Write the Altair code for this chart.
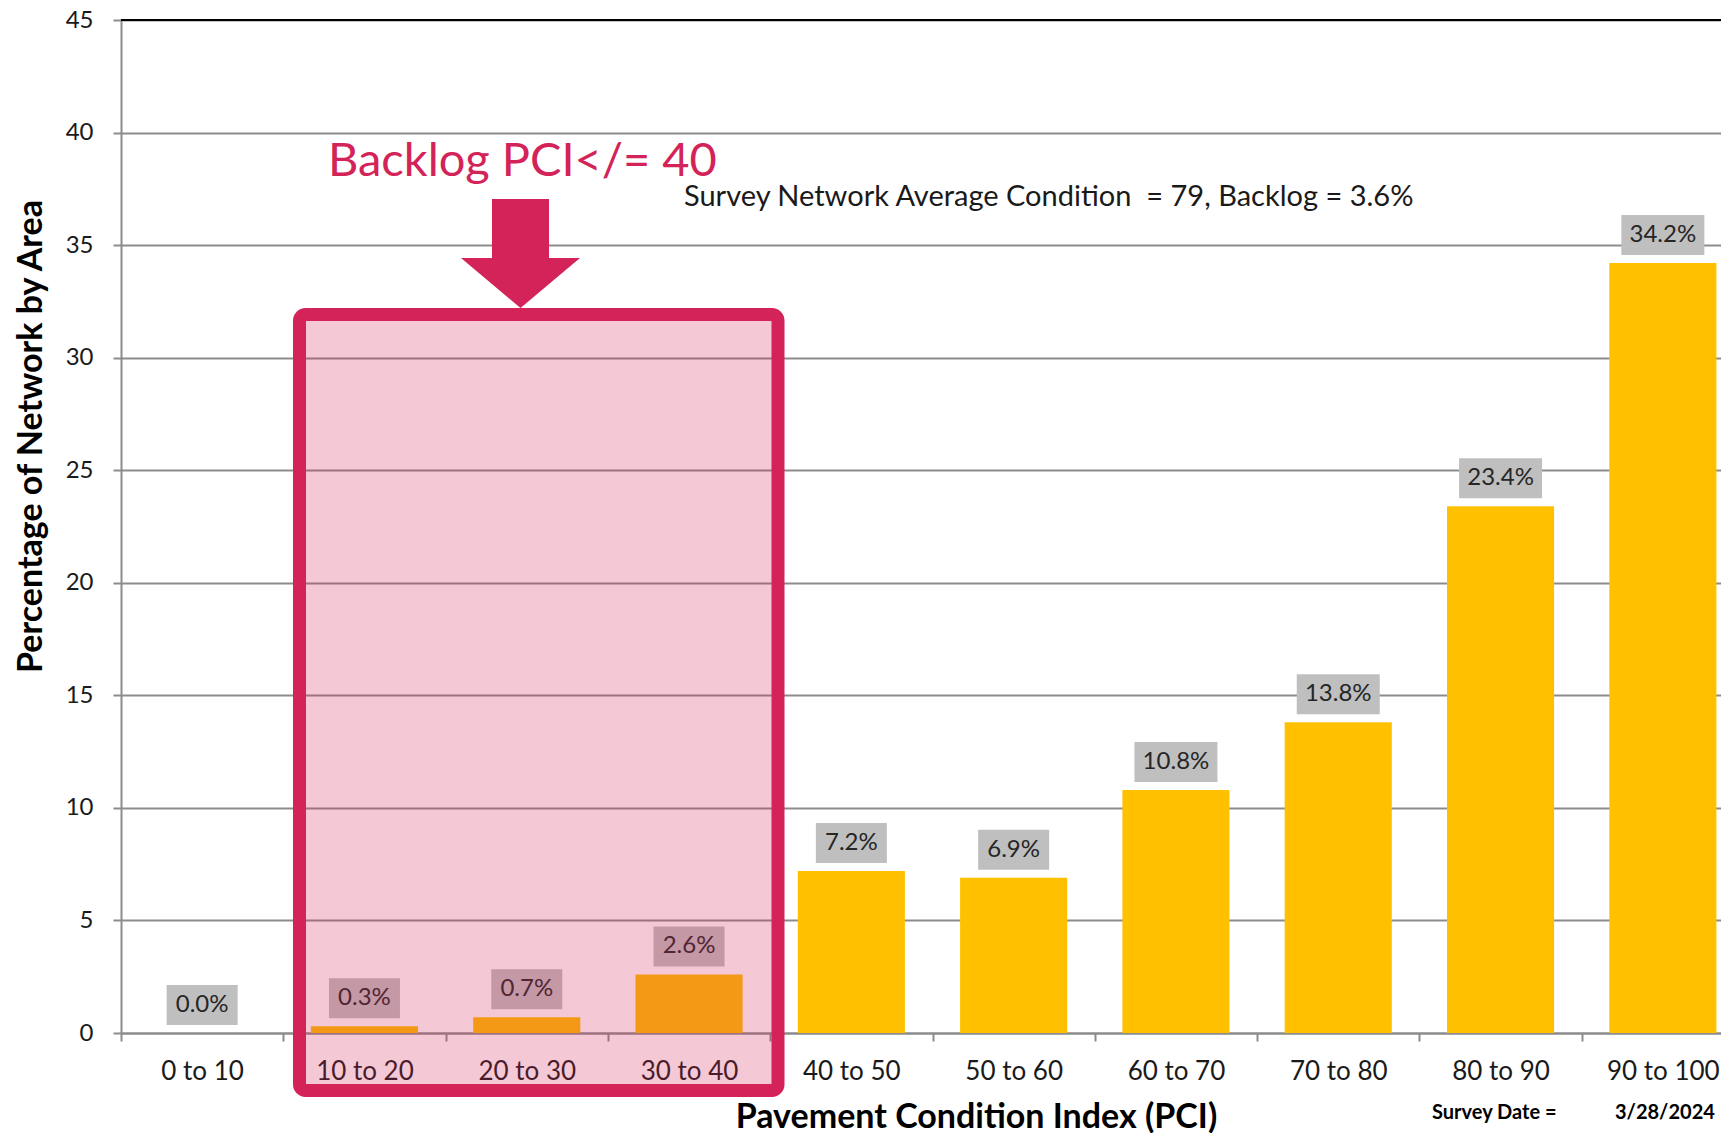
import altair as alt
import pandas as pd

categories = ["0 to 10", "10 to 20", "20 to 30", "30 to 40", "40 to 50",
              "50 to 60", "60 to 70", "70 to 80", "80 to 90", "90 to 100"]
values = [0.0, 0.3, 0.7, 2.6, 7.2, 6.9, 10.8, 13.8, 23.4, 34.2]
y_ticks = [0, 5, 10, 15, 20, 25, 30, 35, 40, 45]

backlog_title = "Backlog PCI</= 40"
summary_text = "Survey Network Average Condition\u00a0 = 79, Backlog = 3.6%"
date_label = "Survey Date ="
date_value = "3/28/2024"
x_title = "Pavement Condition Index (PCI)"
y_title = "Percentage of Network by Area"

FONT = "Lato"
CRIMSON = "#D42358"
GRID = "#8c8c8c"

df = pd.DataFrame({"cat": categories, "pct": values})
one = pd.DataFrame({"a": [0]})

W, H = 1600, 1013

x_enc = alt.X(
    "cat:N", sort=categories,
    scale=alt.Scale(range=[0, 1623], paddingInner=0, paddingOuter=0),
    axis=alt.Axis(
        title=x_title, titleFont=FONT, titleFontSize=34, titleFontWeight="bold",
        titleColor="#000000", titleX=855, titleY=94, titleBaseline="alphabetic",
        titleAlign="center",
        labelFont=FONT, labelFontSize=26, labelColor="#1a1a1a", labelPadding=17,
        labelAngle=0, tickBand="extent", tickSize=8, tickWidth=2, tickColor=GRID,
        domainColor=GRID, domainWidth=2, grid=False,
    ),
)
y_enc = alt.Y(
    "pct:Q",
    scale=alt.Scale(domain=[0, 45], nice=False),
    axis=alt.Axis(
        values=y_ticks, title=y_title, titleFont=FONT, titleFontSize=34,
        titleFontWeight="bold", titleColor="#000000", titleAngle=-90,
        titleX=-80, titleY=416, titleAlign="center", titleBaseline="alphabetic",
        labelFont=FONT, labelFontSize=24, labelColor="#1a1a1a", labelPadding=20,
        tickSize=8, tickWidth=2, tickColor=GRID, domainColor=GRID, domainWidth=2,
        grid=True, gridColor=GRID, gridWidth=2,
    ),
)

base = alt.Chart(df).transform_calculate(
    label="format(datum.pct, '.1f') + '%'",
).transform_calculate(
    bw="length(datum.label) * 12 + 23",
).transform_calculate(
    bsize="datum.bw * datum.bw",
    bshape="'M-1,' + (-40 / datum.bw) + 'L1,' + (-40 / datum.bw) + 'L1,' + (40 / datum.bw) + 'L-1,' + (40 / datum.bw) + 'Z'",
)

bars = base.mark_bar(color="#FFC000", width=alt.RelativeBandSize(0.66)).encode(
    x=x_enc, y=y_enc
)

boxes = base.mark_point(filled=True, color="#BFBFBF", opacity=1, strokeWidth=0,
                        yOffset=-28).encode(
    x=alt.X("cat:N", sort=categories),
    y="pct:Q",
    shape=alt.Shape("bshape:N", scale=None),
    size=alt.Size("bsize:Q", scale=None),
)

texts = base.mark_text(font=FONT, fontSize=24, color="#262626", dy=-28,
                       baseline="middle", align="center").encode(
    x=alt.X("cat:N", sort=categories),
    y="pct:Q",
    text="label:N",
)

top_line = alt.Chart(one).mark_rule(color="#000000", strokeWidth=2).encode(
    y=alt.datum(45)
)

overlay = alt.Chart(one).mark_rect(
    fill=CRIMSON, fillOpacity=0.25, stroke=CRIMSON, strokeOpacity=1,
    strokeWidth=13, cornerRadius=6,
).encode(
    x=alt.value(178.5), x2=alt.value(657),
    y=alt.value(294.5), y2=alt.value(1070.5),
)

arrow_path = ("M-0.479,-0.916 L0.479,-0.916 L0.479,0.076 L1,0.076 "
              "L0,0.916 L-1,0.076 L-0.479,0.076 Z")
arrow = alt.Chart(one).mark_point(
    shape=arrow_path, size=14161, filled=True, color=CRIMSON, opacity=1,
    strokeWidth=0,
).encode(x=alt.value(399.5), y=alt.value(233.5))

backlog = alt.Chart(one).mark_text(
    text=backlog_title, font=FONT, fontSize=47, color=CRIMSON,
    align="left", baseline="alphabetic",
).encode(x=alt.value(207), y=alt.value(156))

summary = alt.Chart(one).mark_text(
    text=summary_text, font=FONT, fontSize=29, color="#1a1a1a",
    align="left", baseline="alphabetic",
).encode(x=alt.value(563), y=alt.value(186))

date_l = alt.Chart(one).mark_text(
    text=date_label, font=FONT, fontSize=20, fontWeight="bold", color="#000000",
    align="left", baseline="alphabetic",
).encode(x=alt.value(1311), y=alt.value(1099))

date_v = alt.Chart(one).mark_text(
    text=date_value, font=FONT, fontSize=20, fontWeight="bold", color="#000000",
    align="left", baseline="alphabetic",
).encode(x=alt.value(1494), y=alt.value(1099))

chart = alt.layer(
    bars, boxes, texts, top_line, overlay, arrow, backlog, summary, date_l, date_v
).properties(
    width=W, height=H,
    autosize=alt.AutoSizeParams(type="none"),
    padding={"left": 113, "top": 12, "right": 0, "bottom": 100},
).configure_view(stroke=None).configure(background="white")

chart.save("out.html", embed_options={"renderer": "svg", "actions": False})
